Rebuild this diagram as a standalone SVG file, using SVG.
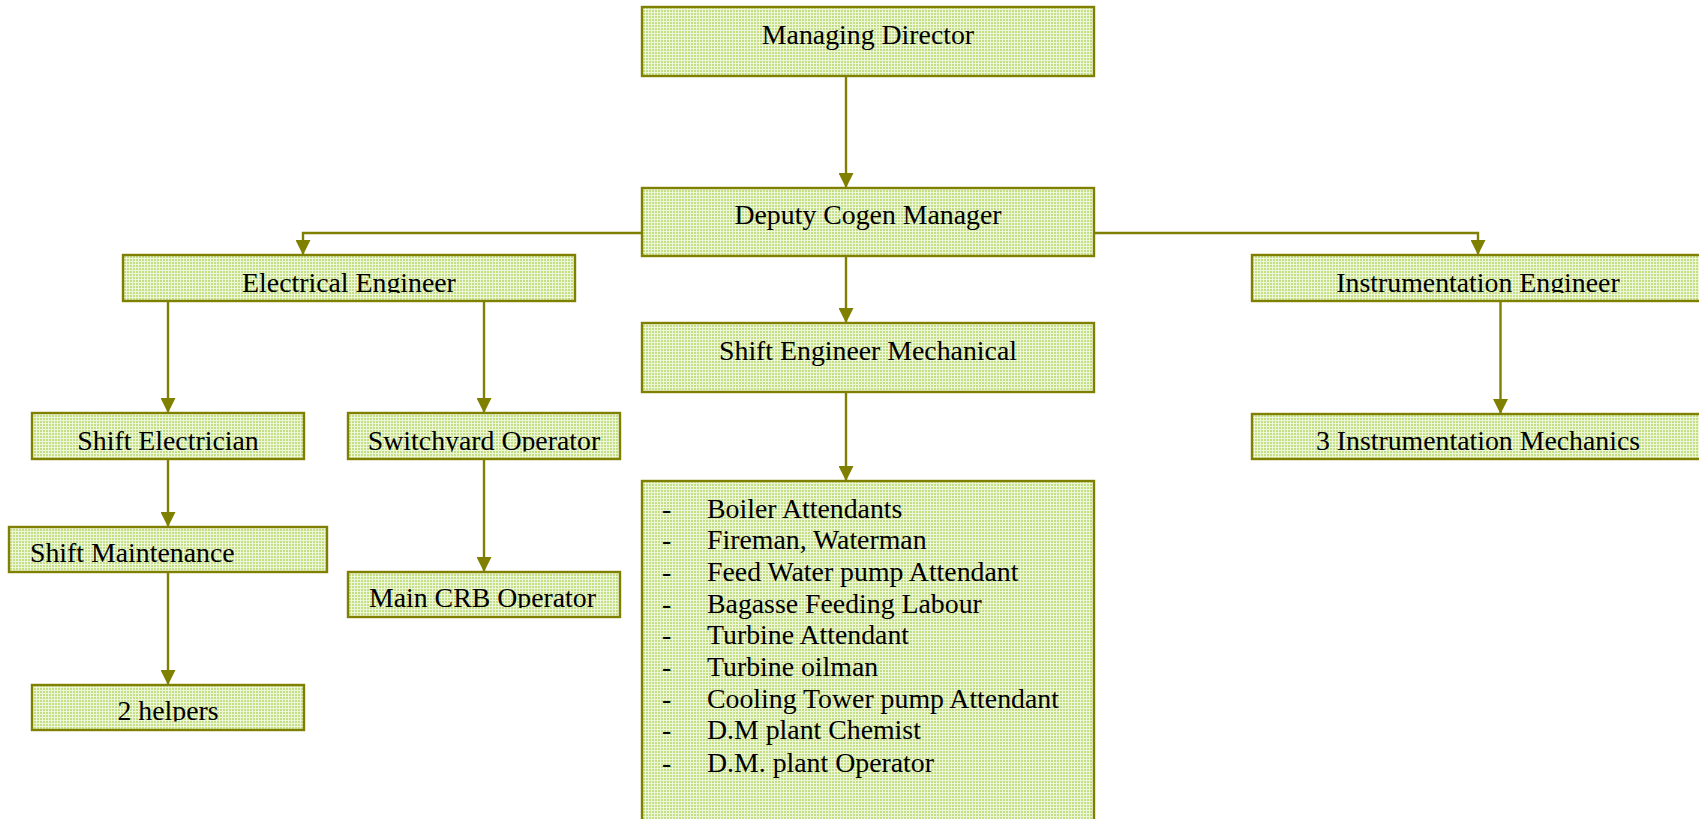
<svg xmlns="http://www.w3.org/2000/svg" width="1699" height="819" viewBox="0 0 1699 819">
<style>
.box{fill:url(#grid);stroke:#808000;stroke-width:2.4}
.t{font-family:"Liberation Serif","Times New Roman",serif;font-size:27.8px;fill:#000}
.c{text-anchor:middle}
.conn{fill:none;stroke:#808000;stroke-width:2.4}
</style>
<defs>
<pattern id="grid" width="3" height="3" patternUnits="userSpaceOnUse">
<rect width="3" height="3" fill="#c4de86"/>
<rect width="3" height="1" fill="#eef6d8"/>
<rect width="1" height="3" fill="#eef6d8"/>
</pattern>
<marker id="arr" viewBox="0 0 15 15" markerWidth="15" markerHeight="15" refX="15" refY="7.5" orient="auto" markerUnits="userSpaceOnUse">
<path d="M0,0 L15,7.5 L0,15 z" fill="#808000"/>
</marker>
<clipPath id="clipEE"><rect x="123" y="256" width="452" height="37"/></clipPath>
<clipPath id="clipIE"><rect x="1252" y="256" width="452" height="37"/></clipPath>
<clipPath id="clipSY"><rect x="349" y="414" width="271" height="37.5"/></clipPath>
<clipPath id="clipCRB"><rect x="349" y="572" width="271" height="36"/></clipPath>
<clipPath id="clipHelp"><rect x="32" y="686" width="272" height="35.5"/></clipPath>
</defs>

<g id="connectors">
<path class="conn" d="M846,76 V188" marker-end="url(#arr)"/>
<path class="conn" d="M642,233 H303 V255" marker-end="url(#arr)"/>
<path class="conn" d="M1094,233 H1478 V255" marker-end="url(#arr)"/>
<path class="conn" d="M846,256 V323" marker-end="url(#arr)"/>
<path class="conn" d="M846,392 V481" marker-end="url(#arr)"/>
<path class="conn" d="M168,301 V413" marker-end="url(#arr)"/>
<path class="conn" d="M484,301 V413" marker-end="url(#arr)"/>
<path class="conn" d="M168,459 V527" marker-end="url(#arr)"/>
<path class="conn" d="M168,572 V685" marker-end="url(#arr)"/>
<path class="conn" d="M484,459 V572" marker-end="url(#arr)"/>
<path class="conn" d="M1500.5,301 V414" marker-end="url(#arr)"/>
</g>

<g id="managing-director">
<rect class="box" x="642" y="7" width="452" height="69"/>
<text class="t c" x="868" y="43.5">Managing Director</text>
</g>

<g id="deputy-cogen-manager">
<rect class="box" x="642" y="188" width="452" height="68"/>
<text class="t c" x="868" y="223.5">Deputy Cogen Manager</text>
</g>

<g id="electrical-engineer">
<rect class="box" x="123" y="255" width="452" height="46"/>
<text class="t c" x="349" y="291.7" clip-path="url(#clipEE)">Electrical Engineer</text>
</g>

<g id="instrumentation-engineer">
<rect class="box" x="1252" y="255" width="452" height="46"/>
<text class="t c" x="1478" y="291.7" clip-path="url(#clipIE)">Instrumentation Engineer</text>
</g>

<g id="shift-engineer-mechanical">
<rect class="box" x="642" y="323" width="452" height="69"/>
<text class="t c" x="868" y="360">Shift Engineer Mechanical</text>
</g>

<g id="shift-electrician">
<rect class="box" x="32" y="413" width="272" height="46"/>
<text class="t c" x="168" y="450">Shift Electrician</text>
</g>

<g id="switchyard-operator">
<rect class="box" x="348" y="413" width="272" height="46"/>
<text class="t c" x="484" y="450" clip-path="url(#clipSY)">Switchyard Operator</text>
</g>

<g id="instrumentation-mechanics">
<rect class="box" x="1252" y="414" width="452" height="45"/>
<text class="t c" x="1478" y="449.5">3 Instrumentation Mechanics</text>
</g>

<g id="shift-maintenance">
<rect class="box" x="9" y="527" width="318" height="45"/>
<text class="t" x="30" y="562.3">Shift Maintenance</text>
</g>

<g id="main-crb-operator">
<rect class="box" x="348" y="572" width="272" height="45"/>
<text class="t" x="369" y="606.7" clip-path="url(#clipCRB)">Main CRB Operator</text>
</g>

<g id="helpers">
<rect class="box" x="32" y="685" width="272" height="45"/>
<text class="t c" x="168" y="720" clip-path="url(#clipHelp)">2 helpers</text>
</g>

<g id="mechanical-staff">
<rect class="box" x="642" y="481" width="452" height="360"/>
<g class="t">
<text x="662" y="517.7">-</text><text x="707" y="517.7">Boiler Attendants</text>
<text x="662" y="549.3">-</text><text x="707" y="549.3">Fireman, Waterman</text>
<text x="662" y="581">-</text><text x="707" y="581">Feed Water pump Attendant</text>
<text x="662" y="612.6">-</text><text x="707" y="612.6">Bagasse Feeding Labour</text>
<text x="662" y="644.3">-</text><text x="707" y="644.3">Turbine Attendant</text>
<text x="662" y="676">-</text><text x="707" y="676">Turbine oilman</text>
<text x="662" y="707.7">-</text><text x="707" y="707.7">Cooling Tower pump Attendant</text>
<text x="662" y="739.4">-</text><text x="707" y="739.4">D.M plant Chemist</text>
<text x="662" y="771.7">-</text><text x="707" y="771.7">D.M. plant Operator</text>
</g>
</g>
</svg>
